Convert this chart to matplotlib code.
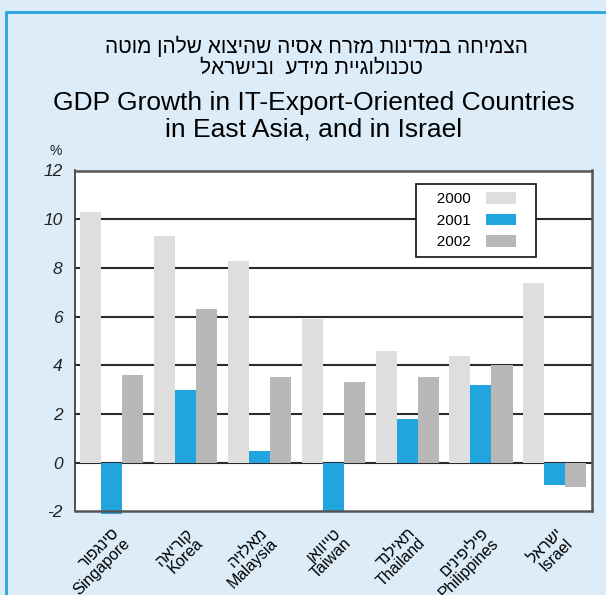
#!/usr/bin/env python3
"""GDP growth in IT-export-oriented East Asian countries and in Israel, 2000-2002."""

import matplotlib

matplotlib.use("Agg")
import matplotlib.pyplot as plt
import numpy as np
from matplotlib.patches import Patch, Rectangle

plt.rcParams["font.family"] = ["Liberation Sans", "DejaVu Sans"]

# Data
countries_en = ["Singapore", "Korea", "Malaysia", "Taiwan", "Thailand", "Philippines", "Israel"]
countries_he = ["סינגפור", "קוריאה", "מאלזיה", "טייוואן", "תאילנד", "פיליפינים", "ישראל"]
years = ["2000", "2001", "2002"]
growth_2000 = [10.3, 9.3, 8.3, 5.9, 4.6, 4.4, 7.4]
growth_2001 = [-2.1, 3.0, 0.5, -2.0, 1.8, 3.2, -0.9]
growth_2002 = [3.6, 6.3, 3.5, 3.3, 3.5, 4.0, -1.0]
yticks = [-2, 0, 2, 4, 6, 8, 10, 12]

title_he = ["הצמיחה במדינות מזרח אסיה שהיצוא שלהן מוטה", "טכנולוגיית מידע  ובישראל"]
title_en = "GDP Growth in IT-Export-Oriented Countries\nin East Asia, and in Israel"

BG = "#dcecf8"
COLORS = ["#dedede", "#22a5de", "#b8b8b8"]
W, H = 606, 595


def visual(s: str) -> str:
    # matplotlib has no bidi support, so lay Hebrew out right-to-left by hand
    return s[::-1]


fig = plt.figure(figsize=(W / 100, H / 100), dpi=100, facecolor=BG)
fig.patches.append(
    Rectangle((6 / W, -0.1), 1.2, 1.1 - 12 / H, transform=fig.transFigure,
              fill=False, edgecolor="#29a3dc", lw=2, zorder=0)
)

ax = fig.add_axes([75 / W, 1 - 511.4 / H, (591.7 - 75) / W, (511.4 - 170.5) / H])
ax.set_facecolor("white")

x = np.arange(len(countries_en))
w = 0.285
for i, (vals, col) in enumerate(zip([growth_2000, growth_2001, growth_2002], COLORS)):
    ax.bar(x + (i - 1) * w, vals, width=w, color=col, zorder=2, clip_on=False,
           label=years[i])

ax.set_xlim(-0.5, len(countries_en) - 0.5)
ax.set_ylim(-2, 12)
ax.set_yticks(yticks)
ax.set_yticklabels([str(t) for t in yticks], fontsize=12.5, style="italic", color="#222222")
ax.tick_params(axis="y", length=0, pad=9)
ax.tick_params(axis="x", length=0, pad=10)

for t in yticks[1:-1]:
    ax.axhline(t, color="#2a2a2a", lw=1.5, zorder=1)

for side in ["left", "bottom", "top", "right"]:
    ax.spines[side].set_color("#555555")
    ax.spines[side].set_linewidth(1.8)
ax.spines["left"].set_color("#333333")
ax.spines["left"].set_linewidth(1.2)

ax.set_xticks(x)
ax.set_xticklabels(
    [f"{visual(he)}\n{en}" for he, en in zip(countries_he, countries_en)],
    rotation=45, ha="right", va="top", rotation_mode="anchor",
    fontsize=11.5, multialignment="right", linespacing=0.95,
)

handles = [Patch(facecolor=c, edgecolor="none") for c in COLORS]
leg = ax.legend(
    handles, ["   " + y for y in years], loc="upper left",
    bbox_to_anchor=(0.66, 0.959 - 0.218, 0.232, 0.218),
    mode="expand", borderaxespad=0, borderpad=0.5, labelspacing=0.48,
    handlelength=2.0, handleheight=0.8, handletextpad=1.0, markerfirst=False,
    fontsize=11, fancybox=False, framealpha=1, edgecolor="#111111",
)
leg.get_frame().set_linewidth(1.2)
leg.set_zorder(5)

fig.text(56 / W, 1 - 151 / H, "%", fontsize=10, ha="center", va="center", color="#222222")
fig.text(316 / W, 1 - 53 / H, visual(title_he[0]), fontsize=15, ha="center", va="baseline")
fig.text(311 / W, 1 - 73.5 / H, visual(title_he[1]), fontsize=15, ha="center", va="baseline")
fig.text(314 / W, 1 - 116 / H, title_en, fontsize=19, ha="center", va="center",
         multialignment="center", linespacing=1.12)

fig.savefig("out.png", dpi=100, facecolor=BG)
